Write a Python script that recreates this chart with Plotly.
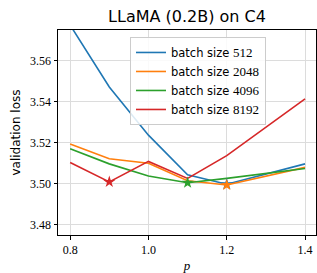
import plotly.graph_objects as go

p_vals = [0.8, 0.9, 1.0, 1.1, 1.2, 1.4]
loss_512 = [3.5775, 3.5473, 3.5238, 3.5045, 3.4999, 3.5098]
loss_2048 = [3.5195, 3.5123, 3.5101, 3.5016, 3.4995, 3.5081]
loss_4096 = [3.5172, 3.5098, 3.5039, 3.5006, 3.5027, 3.5075]
loss_8192 = [3.5105, 3.5010, 3.5110, 3.5027, 3.5138, 3.5415]
series_names = ["512", "2048", "4096", "8192"]
colors = ["#1f77b4", "#ff7f0e", "#2ca02c", "#d62728"]
series = [loss_512, loss_2048, loss_4096, loss_8192]

SERIF = "Liberation Serif"
SANS = "DejaVu Sans"

fig = go.Figure()
for name, ys, c in zip(series_names, series, colors):
    fig.add_trace(go.Scatter(
        x=p_vals, y=ys, mode="lines",
        line=dict(color=c, width=1.6),
        name=f"batch size <span style=\"font-family:{SERIF};font-size:13px\">{name}</span>",
    ))
for name, ys, c in zip(series_names, series, colors):
    i = ys.index(min(ys))
    fig.add_trace(go.Scatter(
        x=[p_vals[i]], y=[ys[i]], mode="markers",
        marker=dict(symbol="star", size=9, color=c, line=dict(width=0)),
        showlegend=False,
    ))

axis_common = dict(
    showline=True, linecolor="black", linewidth=1, mirror=True,
    showgrid=True, gridcolor="#dcdcdc", gridwidth=1,
    ticks="outside", ticklen=3.5, tickcolor="black", tickwidth=1,
    tickfont=dict(family=SERIF, size=12, color="black"),
    zeroline=False,
)

fig.update_layout(
    width=317, height=273, autosize=False,
    margin=dict(l=58, r=1, t=30, b=38),
    paper_bgcolor="white", plot_bgcolor="white",
    title=dict(text="LLaMA (0.2B) on C4", x=0.59, xanchor="center", y=0.941, yanchor="middle",
               font=dict(family=SANS, size=16, color="black")),
    xaxis=dict(axis_common, range=[0.769, 1.428], tickvals=[0.8, 1.0, 1.2, 1.4],
               ticktext=["0.8", "1.0", "1.2", "1.4"],
               title=dict(text="<i>p</i>", font=dict(family=SERIF, size=13, color="black"), standoff=4)),
    yaxis=dict(axis_common, range=[3.4751, 3.5751], tickvals=[3.48, 3.50, 3.52, 3.54, 3.56],
               ticktext=["3.48", "3.50", "3.52", "3.54", "3.56"],
               title=dict(text="validation loss", font=dict(family=SANS, size=12, color="black"), standoff=6)),
    legend=dict(x=0.279, y=0.966, xanchor="left", yanchor="top",
                bgcolor="rgba(255,255,255,0.85)", bordercolor="#cccccc", borderwidth=1,
                font=dict(family=SANS, size=11.5, color="black"),
                tracegroupgap=0, itemwidth=30),
)

fig.write_html("out.html", config={"displayModeBar": False},
               post_script="document.body.style.margin='0';document.body.style.overflow='hidden';")
